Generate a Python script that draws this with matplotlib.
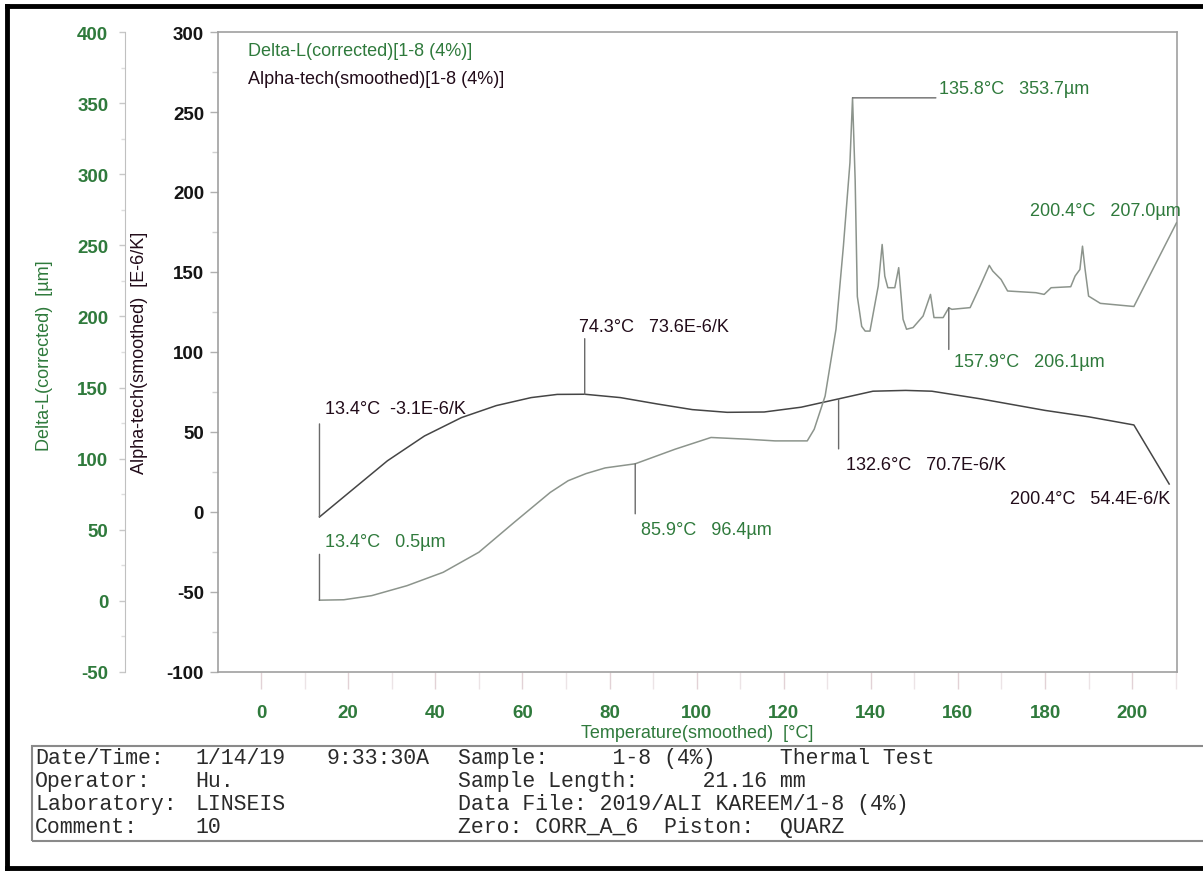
import numpy as np
import matplotlib.pyplot as plt
from matplotlib.lines import Line2D
from matplotlib.patches import Rectangle
from matplotlib.ticker import MultipleLocator

temp_alpha = [13.4, 21, 29, 37.5, 46, 54, 62, 68, 74.3, 82.5, 91, 99, 107, 115.5,
              124, 132.6, 140.5, 148, 154, 165, 180, 190, 200.4, 208.5]
alpha = [-3.1, 14, 32, 47.5, 59, 66.5, 71.5, 73.5, 73.6, 71.5, 67.5, 64, 62.3, 62.5,
         65.5, 70.7, 75.5, 76, 75.5, 70.8, 63.5, 59.5, 54.4, 17.5]

temp_dl = [13.4, 19, 25.4, 33.5, 41.8, 50, 58.1, 66.4, 70.5, 74.6, 79, 85.9, 95.1,
           103.3, 111.5, 118, 125.4, 127, 129.5, 132, 133.7, 135.2, 135.8, 136.4,
           136.9, 137.9, 138.7, 139.8, 141.7, 142.6, 143.2, 143.9, 145.5, 146.4,
           147.4, 148.2, 149.7, 152, 153.7, 154.5, 156.6, 157.9, 158.6, 162.8,
           165.1, 167.2, 168, 169.9, 171.4, 177.9, 179.8, 181.4, 185.9, 186.9, 188,
           188.6, 189.2, 190, 192.7, 200.4, 210.2]
delta_l = [0.5, 0.8, 3.7, 10.7, 20.1, 34.2, 55.2, 76.3, 84.5, 89.5, 93.5, 96.4, 106.7,
           114.9, 113.7, 112.5, 112.5, 120.7, 144, 191, 249.4, 308, 353.7, 296,
           214, 193, 189.7, 189.7, 221.4, 250.6, 228.4, 220.2, 220.2, 234.3,
           198, 191, 192.2, 200.3, 215.5, 199.2, 199.2, 206.1, 205, 206.2,
           221.4, 235.9, 231.9, 226, 217.9, 216.7, 215.5, 220.2, 220.9, 228.4, 233,
           249.4, 233, 214.3, 209.2, 207.0, 265.9]

# marked points
alpha_mark_t = [13.4, 74.3, 132.6, 200.4]
alpha_mark_v = [-3.1, 73.6, 70.7, 54.4]
dl_mark_t = [13.4, 85.9, 135.8, 157.9, 200.4]
dl_mark_v = [0.5, 96.4, 353.7, 206.1, 207.0]

x_ticks = [0, 20, 40, 60, 80, 100, 120, 140, 160, 180, 200]
alpha_ticks = [-100, -50, 0, 50, 100, 150, 200, 250, 300]
dl_ticks = [-50, 0, 50, 100, 150, 200, 250, 300, 350, 400]

info_keys = ["Date/Time:", "Operator:", "Laboratory:", "Comment:"]
info_vals = ["1/14/19", "Hu.", "LINSEIS", "10"]
info_time = "9:33:30A"
info_right = ["Sample:     1-8 (4%)     Thermal Test",
              "Sample Length:     21.16 mm",
              "Data File: 2019/ALI KAREEM/1-8 (4%)",
              "Zero: CORR_A_6  Piston:  QUARZ"]

# style / layout
GREEN = '#2f7a3c'
DARK = '#220c1a'
W, H = 1203, 878

# label offsets in points: (leader dx, leader dy, text dx, text dy, ha)
alpha_offsets = [(0, 67, 4, 78, 'left'), (0, 40, -4, 49, 'left'),
                 (0, -36, 5, -47, 'left'), (None, None, 26, -53, 'right')]
dl_offsets = [(0, 33, 4, 42, 'left'), (0, -36, 4, -47, 'left'),
              (60, 0, 62, 7, 'left'), (0, -30, 4, -39, 'left'),
              (None, None, -75, 69, 'left')]


def fx(px):
    return px / W


def fy(py):
    return 1 - py / H


plt.rcParams['font.family'] = ['Liberation Sans', 'DejaVu Sans']
plt.rcParams['axes.unicode_minus'] = False

fig = plt.figure(figsize=(W / 100, H / 100), dpi=100)
ax = fig.add_axes([fx(218), fy(673), fx(1177) - fx(218), fy(33) - fy(673)])
ax.plot(temp_alpha, alpha, color='#454545', lw=1.1)
ax.set_xlim(-9.9, 210.3)
ax.set_ylim(-100, 300)

ax2 = ax.twinx()
ax2.plot(temp_dl, delta_l, color='#8c948c', lw=1.1)
ax2.set_ylim(-50, 400)

for s in ax.spines.values():
    s.set_color('#a0a0a0')
    s.set_linewidth(1.2)
for side in ['top', 'right', 'bottom']:
    ax2.spines[side].set_visible(False)
ax2.spines['left'].set_position(('outward', 67))
ax2.spines['left'].set_color('#c0c0c0')
ax2.yaxis.tick_left()
ax2.yaxis.set_label_position('left')

ax.set_xticks(x_ticks)
ax.xaxis.set_minor_locator(MultipleLocator(10))
ax.tick_params(axis='x', which='major', length=12, width=1, color='#e2d2d6',
               pad=11, labelsize=13.5, labelcolor=GREEN)
ax.tick_params(axis='x', which='minor', length=12, width=1, color='#ece4e6')
ax.set_yticks(alpha_ticks)
ax.yaxis.set_minor_locator(MultipleLocator(25))
ax.tick_params(axis='y', which='major', length=6, width=1, color='#b0b0b0',
               pad=4, labelsize=13.5, labelcolor='#151515')
ax.tick_params(axis='y', which='minor', length=4, width=1, color='#d0d0d0')
ax2.set_yticks(dl_ticks)
ax2.yaxis.set_minor_locator(MultipleLocator(25))
ax2.tick_params(axis='y', which='major', length=4, width=1, color='#c8c8c8',
                pad=8, labelsize=13.5, labelcolor=GREEN)
ax2.tick_params(axis='y', which='minor', length=3, width=1, color='#dddddd')
plt.setp(ax.get_xticklabels() + ax.get_yticklabels() + ax2.get_yticklabels(),
         fontweight='bold')

# axis titles
fig.text(fx(45), fy(356), "Delta-L(corrected)  [µm]", rotation=90, color=GREEN,
         fontsize=13, ha='center', va='center')
fig.text(fx(140), fy(353), "Alpha-tech(smoothed)  [E-6/K]", rotation=90, color=DARK,
         fontsize=13, ha='center', va='center')
fig.text(fx(697), fy(734), "Temperature(smoothed)  [°C]", color=GREEN,
         fontsize=13, ha='center', va='center')

# curve names
fig.text(fx(248), fy(51), "Delta-L(corrected)[1-8 (4%)]", color=GREEN,
         fontsize=13, va='center')
fig.text(fx(248), fy(80), "Alpha-tech(smoothed)[1-8 (4%)]", color=DARK,
         fontsize=13, va='center')


def mark_label(t, v, unit):
    sep = "   " if v >= 0 else "  "
    return f"{t:.1f}°C{sep}{v:.1f}{unit}"


# marked points with leader lines
for t, v, off in zip(alpha_mark_t, alpha_mark_v, alpha_offsets):
    ldx, ldy, tdx, tdy, ha = off
    if ldx is not None:
        ax.annotate('', xy=(t, v), xytext=(ldx, ldy), textcoords='offset points',
                    arrowprops=dict(arrowstyle='-', color='#6a6a6a', lw=1,
                                    shrinkA=0, shrinkB=0))
    ax.annotate(mark_label(t, v, "E-6/K"), xy=(t, v), xytext=(tdx, tdy),
                textcoords='offset points', ha=ha, va='center', color=DARK,
                fontsize=13)

for t, v, off in zip(dl_mark_t, dl_mark_v, dl_offsets):
    ldx, ldy, tdx, tdy, ha = off
    if ldx is not None:
        ax2.annotate('', xy=(t, v), xytext=(ldx, ldy), textcoords='offset points',
                     arrowprops=dict(arrowstyle='-', color='#6a6a6a', lw=1,
                                     shrinkA=0, shrinkB=0))
    ax2.annotate(mark_label(t, v, "µm"), xy=(t, v), xytext=(tdx, tdy),
                 textcoords='offset points', ha=ha, va='center', color=GREEN,
                 fontsize=13, annotation_clip=False)

# info block below the chart
fig.add_artist(Rectangle((fx(32), fy(842)), 1.0, fy(747) - fy(842),
                         transform=fig.transFigure, fill=False,
                         edgecolor='#8a8a8a', lw=1.5))
row_y = [759, 782, 805, 828]
mono = dict(family='Liberation Mono', fontsize=15.5, color='#2a2a2a', va='center')
for i, y in enumerate(row_y):
    fig.text(fx(35), fy(y), info_keys[i], **mono)
    fig.text(fx(195), fy(y), info_vals[i], **mono)
    fig.text(fx(458), fy(y), info_right[i], **mono)
fig.text(fx(327), fy(row_y[0]), info_time, **mono)

# heavy frame round the print-out (right side is cut off in the scan)
for (x0, y0, x1, y1) in [(7, 7, W + 5, 7), (7, 7, 7, 869), (7, 869, W + 5, 869)]:
    fig.add_artist(Line2D([fx(x0), fx(x1)], [fy(y0), fy(y1)], color='black',
                          lw=3.5, transform=fig.transFigure,
                          solid_capstyle='projecting'))

fig.savefig('out.png', dpi=100, facecolor='white')
